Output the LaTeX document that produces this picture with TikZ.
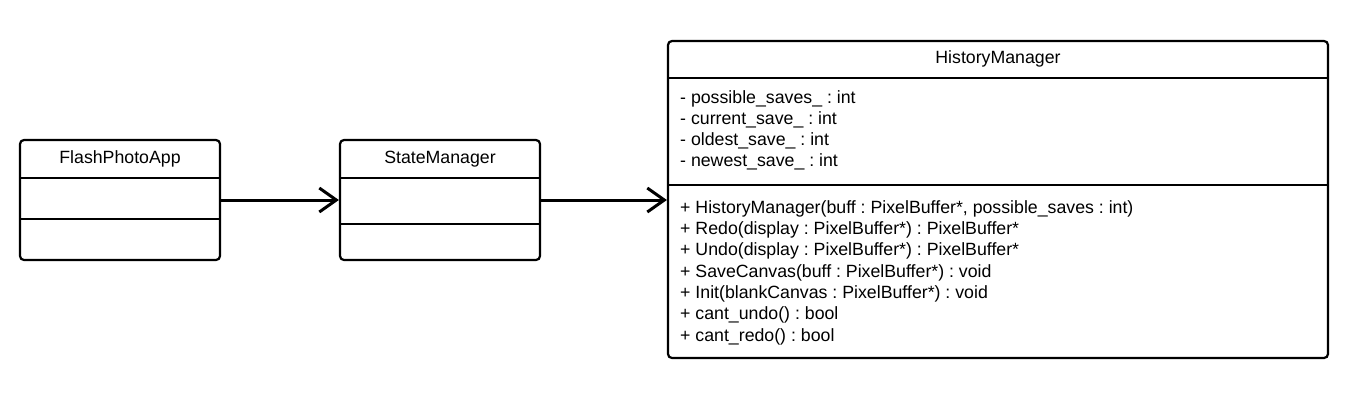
\documentclass[tikz,border=0pt]{standalone}
\usepackage{fontspec}
\setmainfont{Liberation Sans}
\usetikzlibrary{arrows.meta}
\frenchspacing
\begin{document}
\begin{tikzpicture}[x=1bp,y=-1bp,
	classbox/.style={draw,line width=2.2bp,rounded corners=4bp,inner sep=0pt},
	divider/.style={line width=2.2bp},
	link/.style={line width=3bp,-{Straight Barb[length=17bp,width=24bp]}},
	title/.style={anchor=base,inner sep=0pt,font=\fontsize{17.8}{21.3}\selectfont},
	member/.style={anchor=base west,inner sep=0pt,font=\fontsize{17.8}{21.3}\selectfont}]
	\useasboundingbox (0,0) rectangle (1360,400);
	
	\node[classbox,minimum width=200bp,minimum height=120bp] (flash) at (120,200){};
	\node[title] (flashname) at (120,163.5){FlashPhotoApp};
	\draw[divider] (20,178) -- (220,178);
	\draw[divider] (20,219) -- (220,219);
	
	\node[classbox,minimum width=200bp,minimum height=120bp] (state) at (440,200){};
	\node[title] (statename) at (440,163.5){StateManager};
	\draw[divider] (340,178) -- (540,178);
	\draw[divider] (340,224) -- (540,224);
	
	\node[classbox,minimum width=660bp,minimum height=317bp] (history) at (998,199.5){};
	\node[title] (historyname) at (998,63.5){HistoryManager};
	\draw[divider] (668,78) -- (1328,78);
	\draw[divider] (668,185) -- (1328,185);
	
	\node[member] (attr1) at (680,103){- possible\_saves\_ : int};
	\node[member] (attr2) at (680,124.3){- current\_save\_ : int};
	\node[member] (attr3) at (680,145.6){- oldest\_save\_ : int};
	\node[member] (attr4) at (680,166.9){- newest\_save\_ : int};
	
	\node[member] (op1) at (680,213.3){+ HistoryManager(buff : PixelBuffer*, possible\_saves : int)};
	\node[member] (op2) at (680,234.6){+ Redo(display : PixelBuffer*) : PixelBuffer*};
	\node[member] (op3) at (680,255.9){+ Undo(display : PixelBuffer*) : PixelBuffer*};
	\node[member] (op4) at (680,277.2){+ SaveCanvas(buff : PixelBuffer*) : void};
	\node[member] (op5) at (680,298.5){+ Init(blankCanvas : PixelBuffer*) : void};
	\node[member] (op6) at (680,319.8){+ cant\_undo() : bool};
	\node[member] (op7) at (680,341.1){+ cant\_redo() : bool};
	
	\draw[link] (flash.east) -- (state.west);
	\draw[link] (state.east) -- (history.west |- state.east);
\end{tikzpicture}
\end{document}
